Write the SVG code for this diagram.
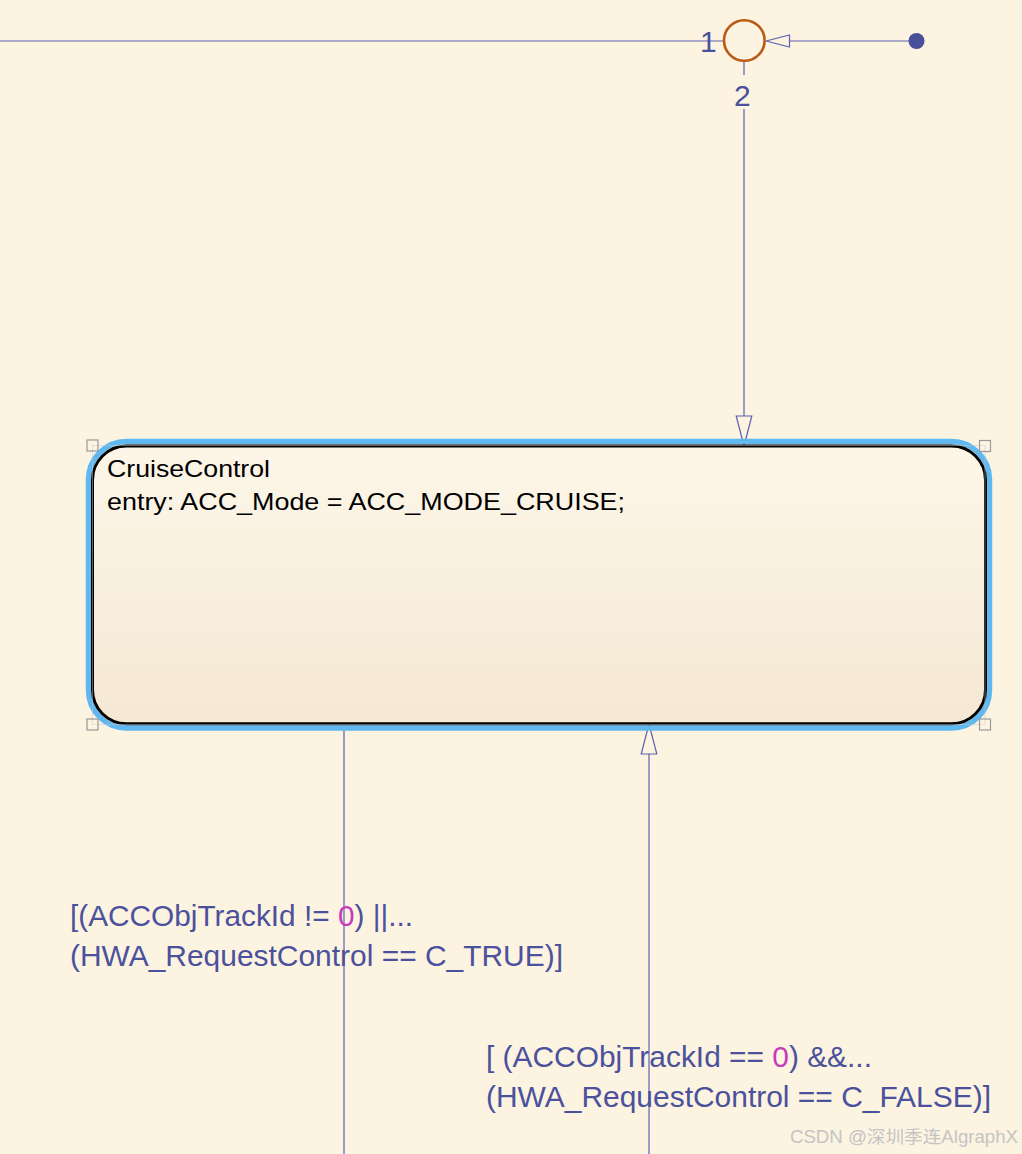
<svg xmlns="http://www.w3.org/2000/svg" width="1022" height="1154" viewBox="0 0 1022 1154">
<style>
.wire{stroke:#5c62b0;stroke-width:1.2;fill:none}
.lbl{font-family:"Liberation Sans",Arial,sans-serif;font-size:30px;fill:#4b519c}
.num{fill:#c43cba}
.st{font-family:"Liberation Sans",Arial,sans-serif;font-size:24px;fill:#000}
.handle{fill:none;stroke:#999;stroke-width:1.2}
.wm{font-family:"Liberation Sans","Noto Sans CJK SC",sans-serif;font-size:17.5px;fill:#c4c4c4}
</style>
<defs>
<linearGradient id="sf" x1="0" y1="0" x2="0" y2="1">
<stop offset="0" stop-color="#fdf6e8"/>
<stop offset="1" stop-color="#f5e8d3"/>
</linearGradient>
</defs>
<rect x="0" y="0" width="1022" height="1154" fill="#fcf3e1"/>
<g id="connectors">
<line class="wire" x1="0" y1="41" x2="723" y2="41"/>
<line class="wire" x1="789" y1="41" x2="916" y2="41"/>
<polygon points="766,41 789.5,35 789.5,47" fill="#fcf3e1" stroke="#5c62b0" stroke-width="1.2"/>
<line class="wire" x1="744" y1="62" x2="744" y2="75"/>
<line class="wire" x1="744" y1="109" x2="744" y2="416"/>
<polygon points="744,446 736.2,416 751.8,416" fill="#fcf3e1" stroke="#5c62b0" stroke-width="1.2"/>
<line class="wire" x1="344" y1="729" x2="344" y2="1154"/>
<line class="wire" x1="649" y1="754" x2="649" y2="1154"/>
<polygon points="649,724 641.2,754 656.8,754" fill="#fcf3e1" stroke="#5c62b0" stroke-width="1.2"/>
</g>
<g id="default-dot">
<circle cx="916.5" cy="41" r="8" fill="#4a4f9a"/>
</g>
<g id="junction">
<circle cx="744.3" cy="40.5" r="20.3" fill="none" stroke="#b85c14" stroke-width="2.6"/>
<text class="lbl" x="700" y="52" font-size="30">1</text>
<text class="lbl" x="734" y="106" font-size="34">2</text>
</g>
<g id="CruiseControl">
<rect x="88.5" y="441.5" width="901" height="286.5" rx="38" ry="38" fill="none" stroke="#5fb9f0" stroke-width="5.5"/>
<rect x="92.5" y="446" width="893" height="277.7" rx="34" ry="34" fill="url(#sf)" stroke="#000" stroke-width="3"/>
<rect x="92.5" y="445.5" width="892.5" height="279" fill="none" stroke="#c8c8c8" stroke-width="0.8" opacity="0.6"/>
<rect class="handle" x="87" y="440" width="11" height="11"/>
<rect class="handle" x="979.5" y="440.5" width="11" height="11"/>
<rect class="handle" x="87" y="719" width="11" height="11"/>
<rect class="handle" x="979.5" y="719" width="11" height="11"/>
<text class="st" x="107" y="477" textLength="163" lengthAdjust="spacingAndGlyphs">CruiseControl</text>
<text class="st" x="107" y="510" textLength="518" lengthAdjust="spacingAndGlyphs">entry: ACC_Mode = ACC_MODE_CRUISE;</text>
</g>
<g id="label-to-exit">
<text class="lbl" x="70" y="926" textLength="343" lengthAdjust="spacingAndGlyphs">[(ACCObjTrackId != <tspan class="num">0</tspan>) ||...</text>
<text class="lbl" x="70" y="966" textLength="493" lengthAdjust="spacingAndGlyphs">(HWA_RequestControl == C_TRUE)]</text>
</g>
<g id="label-to-enter">
<text class="lbl" x="486" y="1067" textLength="386" lengthAdjust="spacingAndGlyphs">[ (ACCObjTrackId == <tspan class="num">0</tspan>) &amp;&amp;...</text>
<text class="lbl" x="486" y="1107" textLength="505" lengthAdjust="spacingAndGlyphs">(HWA_RequestControl == C_FALSE)]</text>
</g>
<text class="wm" x="790" y="1143" textLength="228" lengthAdjust="spacingAndGlyphs">CSDN @深圳季连AlgraphX</text>
</svg>
